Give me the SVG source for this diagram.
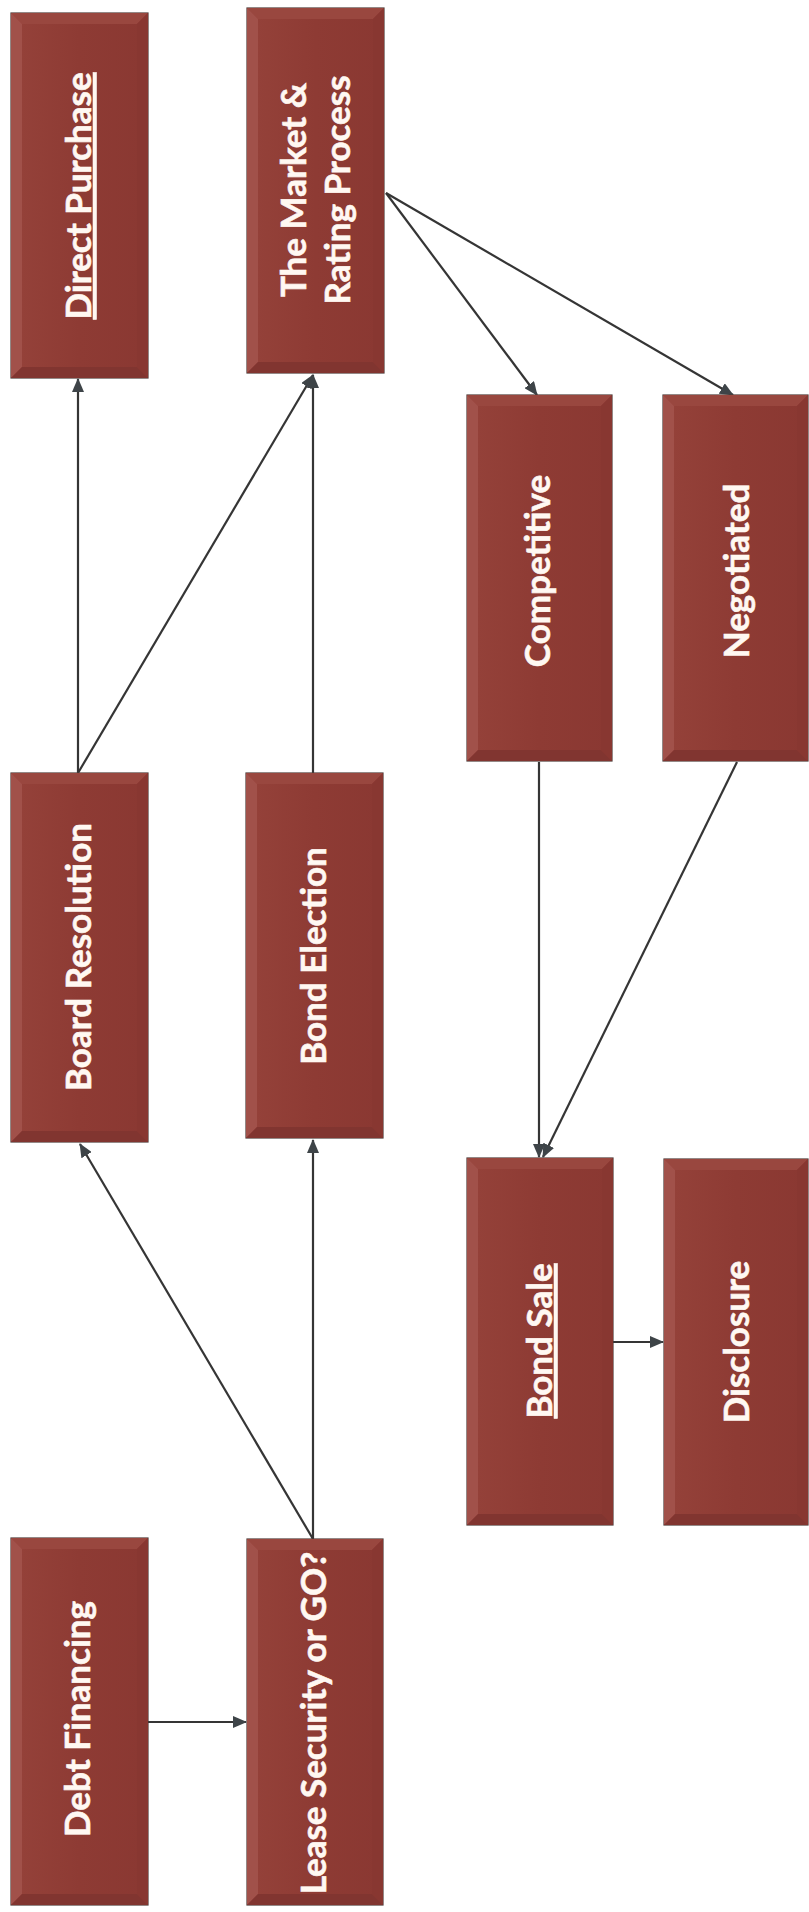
<svg xmlns="http://www.w3.org/2000/svg" width="809" height="1912" viewBox="0 0 809 1912">
<defs>
<marker id="ah" markerUnits="userSpaceOnUse" markerWidth="14" markerHeight="12" refX="13" refY="6" orient="auto">
<path d="M0,0 L14,6 L0,12 z" fill="#3e4448"/>
</marker>
<linearGradient id="g" x1="0" y1="0" x2="1" y2="0">
<stop offset="0" stop-color="#95423a"/>
<stop offset="0.5" stop-color="#8e3b34"/>
<stop offset="1" stop-color="#8a3832"/>
</linearGradient>
</defs>
<style>
.base{fill:url(#g);stroke:#4d3b38;stroke-width:1.2}
.bt{fill:#99473f}
.bl{fill:#a1514a}
.bb{fill:#813530}
.br{fill:#883731}
.lbl{font-family:Lato,"Open Sans","Liberation Sans",sans-serif;font-weight:bold;font-size:35px;fill:#fff8f2;text-anchor:middle;stroke:#fff8f2;stroke-width:0.6}
.ul{text-decoration:underline}
.conn{stroke:#353535;stroke-width:2.2;fill:none;marker-end:url(#ah)}
</style>
<rect width="809" height="1912" fill="#ffffff"/>

<g id="connectors">
<line class="conn" x1="148" y1="1722" x2="246" y2="1722"/>
<line class="conn" x1="313" y1="1539" x2="80" y2="1144"/>
<line class="conn" x1="313" y1="1539" x2="313" y2="1140"/>
<line class="conn" x1="78" y1="773" x2="78" y2="379"/>
<line class="conn" x1="78" y1="773" x2="313" y2="375"/>
<line class="conn" x1="313" y1="773" x2="313" y2="375"/>
<line class="conn" x1="386" y1="193" x2="537" y2="395"/>
<line class="conn" x1="386" y1="193" x2="733" y2="395"/>
<line class="conn" x1="539" y1="762" x2="539" y2="1157"/>
<line class="conn" x1="737" y1="762" x2="543" y2="1157"/>
<line class="conn" x1="613" y1="1342" x2="663" y2="1342"/>
</g>

<g id="direct-purchase">
<rect class="base" x="11" y="13" width="137" height="365"/>
<polygon class="bt" points="11,13 148,13 137,24 22,24"/>
<polygon class="bl" points="11,13 22,24 22,367 11,378"/>
<polygon class="bb" points="11,378 22,367 137,367 148,378"/>
<polygon class="br" points="148,13 148,378 137,367 137,24"/>
<text class="lbl ul" transform="translate(79,196) rotate(-90)" x="0" y="12">Direct Purchase</text>
</g>

<g id="market-rating">
<rect class="base" x="247" y="8" width="137" height="365"/>
<polygon class="bt" points="247,8 384,8 373,19 258,19"/>
<polygon class="bl" points="247,8 258,19 258,362 247,373"/>
<polygon class="bb" points="247,373 258,362 373,362 384,373"/>
<polygon class="br" points="384,8 384,373 373,362 373,19"/>
<text class="lbl" transform="translate(316,190) rotate(-90)" x="0" y="-10">The Market &amp;</text>
<text class="lbl" transform="translate(316,190) rotate(-90)" x="0" y="34">Rating Process</text>
</g>

<g id="competitive">
<rect class="base" x="467" y="395" width="145" height="366"/>
<polygon class="bt" points="467,395 612,395 601,406 478,406"/>
<polygon class="bl" points="467,395 478,406 478,750 467,761"/>
<polygon class="bb" points="467,761 478,750 601,750 612,761"/>
<polygon class="br" points="612,395 612,761 601,750 601,406"/>
<text class="lbl" transform="translate(538,571) rotate(-90)" x="0" y="12">Competitive</text>
</g>

<g id="negotiated">
<rect class="base" x="663" y="395" width="145" height="366"/>
<polygon class="bt" points="663,395 808,395 797,406 674,406"/>
<polygon class="bl" points="663,395 674,406 674,750 663,761"/>
<polygon class="bb" points="663,761 674,750 797,750 808,761"/>
<polygon class="br" points="808,395 808,761 797,750 797,406"/>
<text class="lbl" transform="translate(737,571) rotate(-90)" x="0" y="12">Negotiated</text>
</g>

<g id="board-resolution">
<rect class="base" x="11" y="773" width="137" height="369"/>
<polygon class="bt" points="11,773 148,773 137,784 22,784"/>
<polygon class="bl" points="11,773 22,784 22,1131 11,1142"/>
<polygon class="bb" points="11,1142 22,1131 137,1131 148,1142"/>
<polygon class="br" points="148,773 148,1142 137,1131 137,784"/>
<text class="lbl" transform="translate(79,957) rotate(-90)" x="0" y="12">Board Resolution</text>
</g>

<g id="bond-election">
<rect class="base" x="246" y="773" width="137" height="365"/>
<polygon class="bt" points="246,773 383,773 372,784 257,784"/>
<polygon class="bl" points="246,773 257,784 257,1127 246,1138"/>
<polygon class="bb" points="246,1138 257,1127 372,1127 383,1138"/>
<polygon class="br" points="383,773 383,1138 372,1127 372,784"/>
<text class="lbl" transform="translate(314,956) rotate(-90)" x="0" y="12">Bond Election</text>
</g>

<g id="bond-sale">
<rect class="base" x="467" y="1158" width="146" height="367"/>
<polygon class="bt" points="467,1158 613,1158 602,1169 478,1169"/>
<polygon class="bl" points="467,1158 478,1169 478,1514 467,1525"/>
<polygon class="bb" points="467,1525 478,1514 602,1514 613,1525"/>
<polygon class="br" points="613,1158 613,1525 602,1514 602,1169"/>
<text class="lbl ul" transform="translate(540,1341) rotate(-90)" x="0" y="12">Bond Sale</text>
</g>

<g id="disclosure">
<rect class="base" x="664" y="1159" width="144" height="366"/>
<polygon class="bt" points="664,1159 808,1159 797,1170 675,1170"/>
<polygon class="bl" points="664,1159 675,1170 675,1514 664,1525"/>
<polygon class="bb" points="664,1525 675,1514 797,1514 808,1525"/>
<polygon class="br" points="808,1159 808,1525 797,1514 797,1170"/>
<text class="lbl" transform="translate(737,1342) rotate(-90)" x="0" y="12">Disclosure</text>
</g>

<g id="debt-financing">
<rect class="base" x="11" y="1538" width="137" height="367"/>
<polygon class="bt" points="11,1538 148,1538 137,1549 22,1549"/>
<polygon class="bl" points="11,1538 22,1549 22,1894 11,1905"/>
<polygon class="bb" points="11,1905 22,1894 137,1894 148,1905"/>
<polygon class="br" points="148,1538 148,1905 137,1894 137,1549"/>
<text class="lbl" transform="translate(78,1719) rotate(-90)" x="0" y="12">Debt Financing</text>
</g>

<g id="lease-security">
<rect class="base" x="247" y="1539" width="136" height="366"/>
<polygon class="bt" points="247,1539 383,1539 372,1550 258,1550"/>
<polygon class="bl" points="247,1539 258,1550 258,1894 247,1905"/>
<polygon class="bb" points="247,1905 258,1894 372,1894 383,1905"/>
<polygon class="br" points="383,1539 383,1905 372,1894 372,1550"/>
<text class="lbl" transform="translate(314,1723) rotate(-90)" x="0" y="12">Lease Security or GO?</text>
</g>
</svg>
